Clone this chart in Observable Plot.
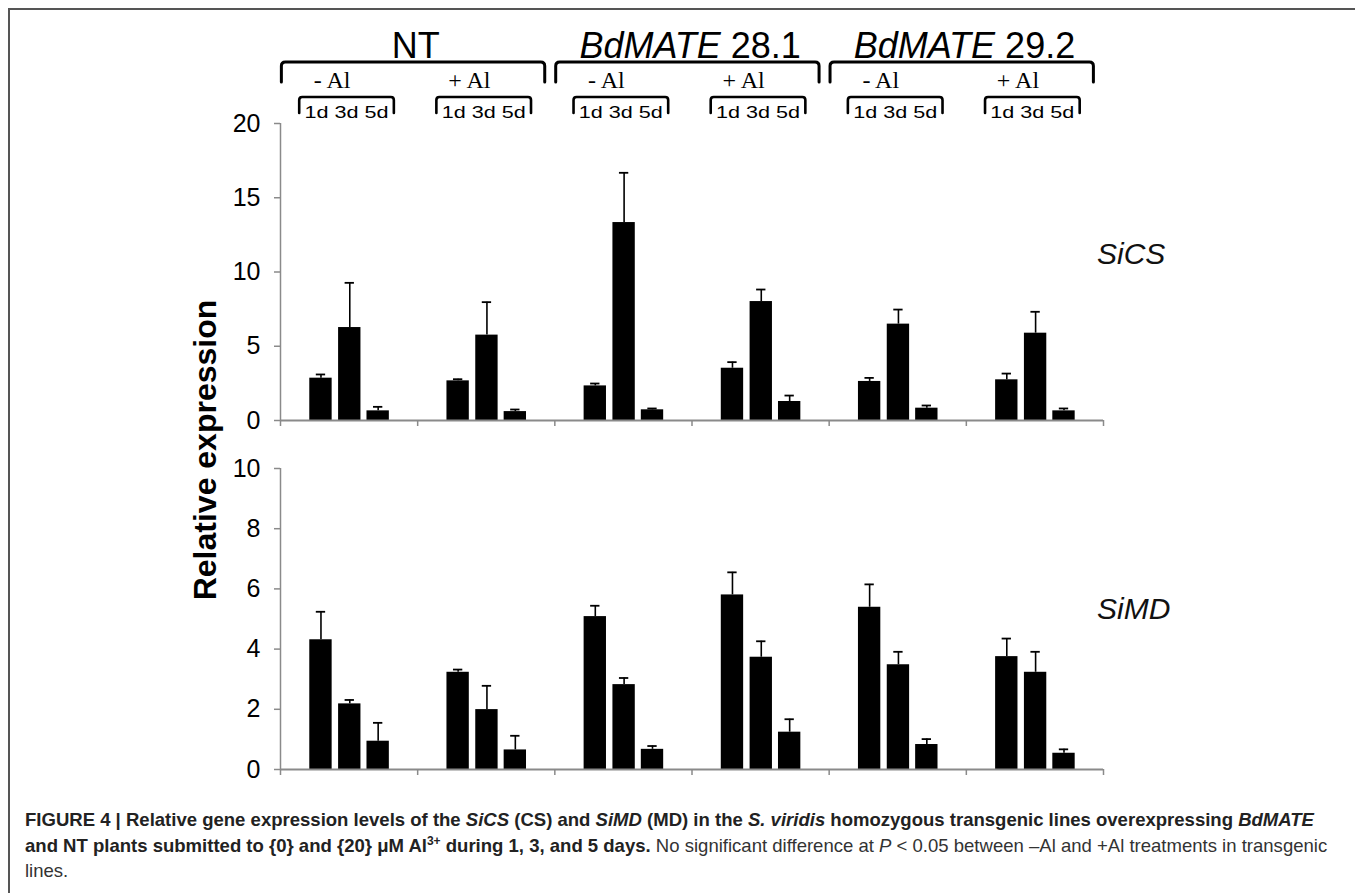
<!DOCTYPE html>
<html>
<head>
<meta charset="utf-8">
<script src="https://cdn.jsdelivr.net/npm/d3@7"></script>
<script src="https://cdn.jsdelivr.net/npm/@observablehq/plot@0.6"></script>
<style>
  body { margin: 0; background: #fff; }
  #wrap { position: relative; width: 1355px; height: 893px; overflow: hidden; font-family: "Liberation Sans", Arial, sans-serif; background: #fff; }
  .abs { position: absolute; }
  #frame { left: 8px; top: 8px; width: 1400px; height: 1000px; border-top: 2px solid #555; border-left: 2px solid #555; }
  .gene { font-style: italic; font-size: 30px; color: #111; }
  #caption { left: 25px; top: 807px; width: 1320px; font-size: 18.55px; line-height: 25.5px; color: #333; white-space: nowrap; }
  #caption b { color: #222; }
</style>
</head>
<body>
<div id="wrap">
  <div id="frame" class="abs"></div>
  <div id="top" class="abs" style="left:0;top:0"></div>
  <div id="bottom" class="abs" style="left:0;top:440px"></div>
  <svg class="abs" style="left:0;top:0" width="260" height="893">
    <text transform="translate(216,450) rotate(-90)" text-anchor="middle" font-family="Liberation Sans, Arial, sans-serif" font-weight="bold" font-size="32" fill="#000">Relative expression</text>
  </svg>
  <div class="abs gene" style="left:1097px;top:237px">SiCS</div>
  <div class="abs gene" style="left:1097px;top:592px">SiMD</div>
  <div id="caption" class="abs">
    <div><b>FIGURE 4 | Relative gene expression levels of the <i>SiCS</i> (CS) and <i>SiMD</i> (MD) in the <i>S. viridis</i> homozygous transgenic lines overexpressing <i>BdMATE</i></b></div>
    <div><b>and NT plants submitted to {0} and {20} μM Al<sup style="font-size:12px;line-height:0">3+</sup> during 1, 3, and 5 days.</b> No significant difference at <i>P</i> &lt; 0.05 between –Al and +Al treatments in transgenic</div>
    <div>lines.</div>
  </div>
</div>
<script>
// ---- data ----
const lines = ["NT", "BdMATE 28.1", "BdMATE 29.2"];
const treatments = ["- Al", "+ Al"];
const days = ["1d", "3d", "5d"];
const groups = ["NT -Al", "NT +Al", "BdMATE 28.1 -Al", "BdMATE 28.1 +Al", "BdMATE 29.2 -Al", "BdMATE 29.2 +Al"];

// SiCS (top panel): mean and SE, per group x day
const sicsMean = [2.85, 6.26, 0.65,  2.67, 5.75, 0.60,  2.33, 13.33, 0.72,  3.52, 8.01, 1.28,  2.63, 6.49, 0.83,  2.74, 5.88, 0.65];
const sicsErr  = [0.25, 3.01, 0.27,  0.11, 2.22, 0.14,  0.16, 3.35, 0.09,   0.41, 0.81, 0.40,  0.24, 0.98, 0.18,  0.42, 1.44, 0.16];
// SiMD (bottom panel)
const simdMean = [4.31, 2.18, 0.94,  3.23, 1.99, 0.65,  5.08, 2.82, 0.67,  5.80, 3.73, 1.24,  5.39, 3.48, 0.83,  3.75, 3.23, 0.54];
const simdErr  = [0.93, 0.13, 0.61,  0.09, 0.79, 0.47,  0.36, 0.22, 0.11,  0.75, 0.53, 0.43,  0.76, 0.43, 0.18,  0.60, 0.68, 0.13];

const sicsTicks = [0, 5, 10, 15, 20];
const simdTicks = [0, 2, 4, 6, 8, 10];

// ---- layout (within each group of width 1 on the x scale) ----
const dayOffset = [0.295, 0.505, 0.712];
const barW = 0.163, capW = 0.068;

function rowsOf(means, errs) {
  return means.map((m, i) => {
    const g = Math.floor(i / 3), d = i % 3;
    return { group: groups[g], day: days[d], gi: g, xc: g + dayOffset[d], mean: m, err: errs[i] };
  });
}

const font = "'Liberation Sans', Arial, sans-serif";

function panel(rows, { height, marginTop, marginBottom, yDomain, yTicks }) {
  return Plot.plot({
    width: 1355, height, marginLeft: 280, marginRight: 252, marginTop, marginBottom,
    x: { domain: [0, 6], axis: null },
    y: { domain: yDomain, axis: null },
    style: { fontFamily: font, fontSize: "25px", color: "#000", background: "transparent", overflow: "visible" },
    marks: [
      Plot.rectY(rows, { x1: d => d.xc - barW / 2, x2: d => d.xc + barW / 2, y1: 0, y2: "mean", fill: "#000" }),
      Plot.ruleX(rows, { x: "xc", y1: "mean", y2: d => d.mean + d.err, stroke: "#000", strokeWidth: 1.6 }),
      Plot.ruleY(rows, { y: d => d.mean + d.err, x1: d => d.xc - capW / 2, x2: d => d.xc + capW / 2, stroke: "#000", strokeWidth: 1.8 }),
      Plot.ruleX([0], { stroke: "#8a8a8a", strokeWidth: 1.5 }),
      Plot.ruleY([0], { stroke: "#8a8a8a", strokeWidth: 1.8 }),
      Plot.axisX({ ticks: d3.range(7), tickSize: 6, tickFormat: () => "", stroke: "#8a8a8a", strokeWidth: 1.5, label: null }),
      Plot.axisY({ ticks: yTicks, tickSize: 6, tickPadding: 14, stroke: "#8a8a8a", strokeWidth: 1.5, fill: "#000", label: null, fontSize: 25 })
    ]
  });
}

const topPlot = panel(rowsOf(sicsMean, sicsErr), { height: 440, marginTop: 123, marginBottom: 20, yDomain: [0, 20], yTicks: sicsTicks });
const botPlot = panel(rowsOf(simdMean, simdErr), { height: 345, marginTop: 28, marginBottom: 16, yDomain: [0, 10], yTicks: simdTicks });
document.getElementById("top").appendChild(topPlot);
document.getElementById("bottom").appendChild(botPlot);

// ---- header brackets drawn with the same x scale ----
const xs = topPlot.scale("x").apply;
const svg = d3.select(topPlot);
const hdr = svg.append("g").attr("fill", "none").attr("stroke", "#000").attr("stroke-linecap", "round");
function bracket(xa, xb, yTop, yEnd, r, w) {
  hdr.append("path")
    .attr("d", `M${xa},${yEnd} L${xa},${yTop + r} Q${xa},${yTop} ${xa + r},${yTop} L${xb - r},${yTop} Q${xb},${yTop} ${xb},${yTop + r} L${xb},${yEnd}`)
    .attr("stroke-width", w);
}
const txt = svg.append("g").attr("fill", "#000");
lines.forEach((name, L) => {
  bracket(xs(2 * L + 0.01), xs(2 * L + 1.93), 62, 82, 4, 3);
  const t = txt.append("text").attr("x", xs(2 * L + 0.99)).attr("y", 58).attr("text-anchor", "middle")
    .attr("font-family", font).attr("font-size", 36);
  if (name.startsWith("BdMATE")) {
    t.append("tspan").attr("font-style", "italic").text("BdMATE");
    t.append("tspan").text(name.slice(6));
  } else t.text(name);
  treatments.forEach((tr, k) => {
    const g = 2 * L + k;
    txt.append("text").attr("x", xs(g + 0.38)).attr("y", 88).attr("text-anchor", "middle")
      .attr("font-family", "'Liberation Serif', 'Times New Roman', serif").attr("font-size", 24).text(tr);
    bracket(xs(g + 0.14), xs(g + 0.83), 97, 113, 3, 2.6);
    txt.append("text").attr("x", xs(g + 0.485)).attr("y", 118).attr("text-anchor", "middle")
      .attr("font-family", font).attr("font-size", 16).attr("textLength", 84).attr("lengthAdjust", "spacingAndGlyphs")
      .text(days.join(" "));
  });
});
</script>
</body>
</html>
